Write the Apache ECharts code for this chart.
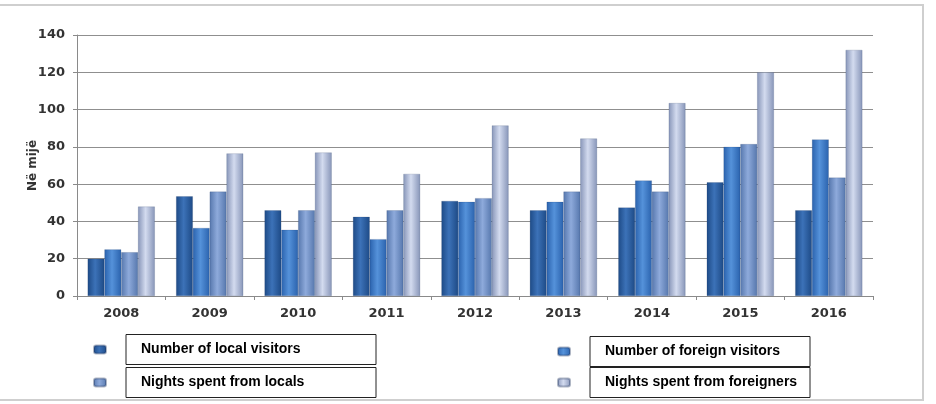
<!DOCTYPE html>
<html lang="en">
<head>
  <meta charset="UTF-8">
  <title>Visitors</title>
  <style>
    html, body { margin: 0; padding: 0; background: #fff; }
    #main { width: 936px; height: 404px; }
  </style>
</head>
<body>
  <div id="main"></div>
  <script src="https://cdn.jsdelivr.net/npm/echarts@6/dist/echarts.min.js"></script>
  <script>
    var years = ['2008', '2009', '2010', '2011', '2012', '2013', '2014', '2015', '2016']
    var localVisitors = [20, 53.5, 46, 42.5, 51, 46, 47.5, 61, 46]
    var foreignVisitors = [25, 36.5, 35.5, 30.5, 50.5, 50.5, 62, 80, 84]
    var localNights = [23.5, 56, 46, 46, 52.5, 56, 56, 81.5, 63.5]
    var foreignNights = [48, 76.5, 77, 65.5, 91.5, 84.5, 103.5, 120, 132]
    var yTicks = [0, 20, 40, 60, 80, 100, 120, 140]

    function cyl(edge, mid) {
      return new echarts.graphic.LinearGradient(0, 0, 1, 0, [
        { offset: 0, color: edge },
        { offset: 0.45, color: mid },
        { offset: 1, color: edge }
      ])
    }

    var names = ['Number of local visitors', 'Number of foreign visitors',
                 'Nights spent from locals', 'Nights spent from foreigners']
    var colors = [
      cyl('#1d4a86', '#3c72b8'),
      cyl('#2a62ad', '#5592da'),
      cyl('#5677ad', '#8eaadb'),
      cyl('#8795b8', '#d3dbef')
    ]
    var values = [localVisitors, foreignVisitors, localNights, foreignNights]

    // one legend per entry so the boxed labels sit exactly where they should
    var legendPos = [
      { left: 88, top: 329, w: 235 },
      { left: 552, top: 331, w: 205 },
      { left: 88, top: 362, w: 235 },
      { left: 552, top: 362, w: 205 }
    ]

    var myChart = echarts.init(document.getElementById('main'))

    var series = values.map(function (v, i) {
      return {
        name: names[i],
        type: 'bar',
        data: v,
        barGap: '0%',
        barCategoryGap: '24%',
        itemStyle: { color: colors[i], borderColor: 'rgba(30,50,90,0.35)', borderWidth: 0.5 }
      }
    })

    var legends = names.map(function (n, i) {
      var p = legendPos[i]
      return {
        data: [n],
        left: p.left, top: p.top,
        itemWidth: 12, itemHeight: 8,
        formatter: function (s) { return '{g|}{b|' + s + '}' },
        textStyle: {
          rich: {
            g: { width: 15 },
            b: {
              width: p.w, height: 30, lineHeight: 32,
              padding: [0, 0, 0, 15],
              borderColor: '#222', borderWidth: 1,
              fontFamily: 'Liberation Sans', fontWeight: 'bold',
              fontSize: 14, color: '#000'
            }
          }
        }
      }
    })

    var option = {
      animation: false,
      graphic: [{
        type: 'rect',
        shape: { x: -3, y: 5, width: 926, height: 395 },
        style: { fill: 'none', stroke: '#cfcfcf', lineWidth: 2 },
        silent: true
      }],
      grid: { left: 77, right: 63, top: 35, bottom: 108 },
      legend: legends,
      xAxis: {
        type: 'category',
        data: years,
        axisLine: { lineStyle: { color: '#8a8a8a' } },
        axisTick: { show: true, length: 4, lineStyle: { color: '#8a8a8a' } },
        axisLabel: { color: '#333', fontSize: 13, fontWeight: 'bold', fontFamily: 'DejaVu Sans', margin: 11 }
      },
      yAxis: {
        type: 'value',
        min: yTicks[0], max: yTicks[yTicks.length - 1], interval: 20,
        name: 'Në mijë',
        nameLocation: 'middle', nameRotate: 90, nameGap: 38,
        nameMoveOverlap: false,
        nameTextStyle: { color: '#333', fontSize: 12, fontWeight: 'bold', fontFamily: 'DejaVu Sans' },
        axisLine: { show: true, lineStyle: { color: '#8a8a8a' } },
        axisTick: { show: true, length: 4, lineStyle: { color: '#8a8a8a' } },
        axisLabel: { color: '#333', fontSize: 13, fontWeight: 'bold', fontFamily: 'DejaVu Sans', margin: 12 },
        splitLine: { lineStyle: { color: '#8f8f8f', width: 1 } }
      },
      series: series
    }

    myChart.setOption(option)
  </script>
</body>
</html>
